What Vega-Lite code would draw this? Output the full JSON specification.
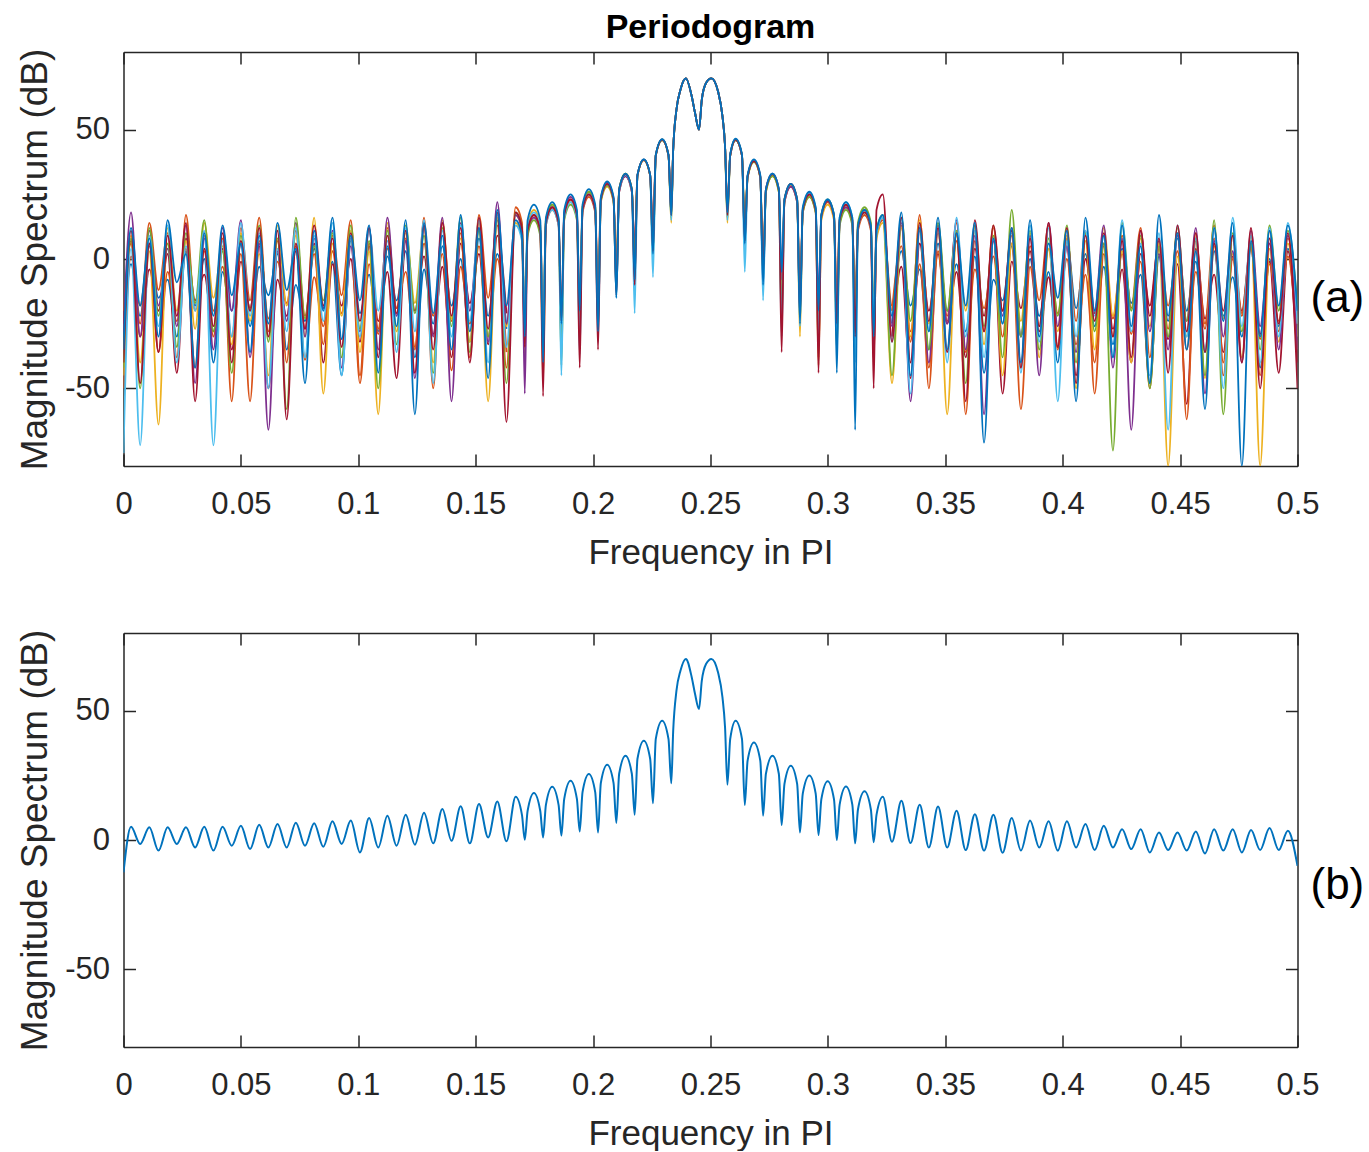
{
"$schema":"https://vega.github.io/schema/vega-lite/v6.json",
"background":"white",
"padding":{"left":16.5,"top":10,"right":0,"bottom":0},
"spacing":59,
"config":{"view":{"stroke":null},"font":"Liberation Sans","axis":{"domainColor":"#262626","domainWidth":1.5,"tickColor":"#262626","tickWidth":1.5,"tickSize":-12,"labelColor":"#262626","labelFont":"Liberation Sans","labelFontSize":31,"labelFlush":false,"labelOverlap":false,"titleFont":"Liberation Sans","titleColor":"#262626","titleFontWeight":"normal","grid":false}},
"datasets":{
"avg":[
{"f":0,"m":-12.5},{"f":0.0032,"m":5.1},{"f":0.0071,"m":-1.5},{"f":0.011,"m":4.9},{"f":0.0149,"m":-4.1},{"f":0.0188,"m":4.9},{"f":0.0227,"m":-1.5},{"f":0.0266,"m":4.9},{"f":0.0305,"m":-2.9},{"f":0.0344,"m":5.1},{"f":0.0383,"m":-4.1},{"f":0.0422,"m":5.1},{"f":0.0461,"m":-2.2},{"f":0.05,"m":5.5},{"f":0.0539,"m":-3.5},{"f":0.0578,"m":5.9},{"f":0.0617,"m":-2.9},{"f":0.0656,"m":6.2},{"f":0.0695,"m":-2.9},{"f":0.0734,"m":6.7},{"f":0.0773,"m":-2.2},{"f":0.0812,"m":6.5},{"f":0.0851,"m":-2.6},{"f":0.089,"m":7.2},{"f":0.0929,"m":-1.5},{"f":0.0968,"m":7.5},{"f":0.1007,"m":-4.8},{"f":0.1046,"m":8.5},{"f":0.1085,"m":-2.9},{"f":0.1124,"m":9.4},{"f":0.1163,"m":-2.2},{"f":0.1202,"m":9.8},{"f":0.1241,"m":-1.8},{"f":0.128,"m":10.5},{"f":0.1319,"m":-1.3},{"f":0.1358,"m":12},{"f":0.1397,"m":-0.3},{"f":0.1436,"m":13},{"f":0.1475,"m":-1.3},{"f":0.1514,"m":13.9},{"f":0.1553,"m":1},{"f":0.1592,"m":14.9},{"f":0.1631,"m":-0.5},{"f":0.167,"m":16.7},{"f":0.1697,"m":9.7},{"f":0.1709,"m":0.1},{"f":0.1721,"m":11.2},{"f":0.1748,"m":18.2},{"f":0.1775,"m":11.2},{"f":0.1787,"m":1},{"f":0.1799,"m":13.6},{"f":0.1826,"m":20.6},{"f":0.1853,"m":13.6},{"f":0.1865,"m":1.7},{"f":0.1877,"m":15.9},{"f":0.1904,"m":22.9},{"f":0.1931,"m":15.9},{"f":0.1943,"m":3.3},{"f":0.1955,"m":18.5},{"f":0.1982,"m":25.5},{"f":0.2009,"m":18.5},{"f":0.2021,"m":2.9},{"f":0.2033,"m":22.1},{"f":0.206,"m":29.1},{"f":0.2087,"m":22.1},{"f":0.2099,"m":6.6},{"f":0.2111,"m":25.6},{"f":0.2138,"m":32.6},{"f":0.2165,"m":25.6},{"f":0.2177,"m":9.8},{"f":0.2189,"m":31.4},{"f":0.2216,"m":38.4},{"f":0.2243,"m":31.4},{"f":0.2255,"m":14.2},{"f":0.2267,"m":39.1},{"f":0.2294,"m":46.1},{"f":0.2321,"m":39.1},{"f":0.2333,"m":21.9},{"f":0.2341,"m":42},{"f":0.2355,"m":57.7},{"f":0.2372,"m":65.4},{"f":0.2395,"m":70},{"f":0.242,"m":62.9},{"f":0.2434,"m":56.5},{"f":0.2451,"m":50.6},{"f":0.2463,"m":61.6},{"f":0.2481,"m":68},{"f":0.2504,"m":70},{"f":0.2532,"m":64.8},{"f":0.2551,"m":55.1},{"f":0.2562,"m":43.5},{"f":0.2572,"m":21.4},{"f":0.2584,"m":39.1},{"f":0.2607,"m":46.1},{"f":0.2634,"m":39.1},{"f":0.2646,"m":13.5},{"f":0.2658,"m":30.7},{"f":0.2685,"m":37.7},{"f":0.2712,"m":30.7},{"f":0.2724,"m":9.4},{"f":0.2736,"m":25.6},{"f":0.2764,"m":32.6},{"f":0.2791,"m":25.6},{"f":0.2803,"m":5.8},{"f":0.2815,"m":21.7},{"f":0.2842,"m":28.7},{"f":0.2869,"m":21.7},{"f":0.2881,"m":2.9},{"f":0.2893,"m":17.9},{"f":0.2921,"m":24.9},{"f":0.2948,"m":17.9},{"f":0.296,"m":1.9},{"f":0.2972,"m":15.7},{"f":0.2999,"m":22.7},{"f":0.3026,"m":15.7},{"f":0.3038,"m":0},{"f":0.305,"m":13.7},{"f":0.3077,"m":20.7},{"f":0.3104,"m":13.7},{"f":0.3116,"m":-1.3},{"f":0.3128,"m":11.8},{"f":0.3156,"m":18.8},{"f":0.3183,"m":11.8},{"f":0.3195,"m":-0.9},{"f":0.3207,"m":9.7},{"f":0.3234,"m":16.7},{"f":0.3273,"m":-0.7},{"f":0.3313,"m":15.2},{"f":0.3352,"m":-1.2},{"f":0.3391,"m":13.6},{"f":0.343,"m":-2.9},{"f":0.3469,"m":12.9},{"f":0.3508,"m":-2.9},{"f":0.3548,"m":11.3},{"f":0.3587,"m":-3.9},{"f":0.3626,"m":10},{"f":0.3665,"m":-4.1},{"f":0.3705,"m":9.8},{"f":0.3744,"m":-4.9},{"f":0.3783,"m":8.5},{"f":0.3822,"m":-4.1},{"f":0.3861,"m":7.5},{"f":0.39,"m":-2.9},{"f":0.394,"m":7.2},{"f":0.3979,"m":-4.1},{"f":0.4018,"m":7.2},{"f":0.4057,"m":-2.9},{"f":0.4097,"m":6.2},{"f":0.4136,"m":-3.9},{"f":0.4175,"m":5.5},{"f":0.4214,"m":-2.9},{"f":0.4253,"m":4.2},{"f":0.4292,"m":-3.5},{"f":0.4332,"m":4.2},{"f":0.4371,"m":-4.8},{"f":0.441,"m":2.9},{"f":0.4449,"m":-3.9},{"f":0.4489,"m":2.9},{"f":0.4528,"m":-4.1},{"f":0.4567,"m":3.3},{"f":0.4606,"m":-5.2},{"f":0.4645,"m":4.2},{"f":0.4684,"m":-4.1},{"f":0.4724,"m":4.2},{"f":0.4763,"m":-4.8},{"f":0.4802,"m":3.9},{"f":0.4841,"m":-3.9},{"f":0.4881,"m":4.6},{"f":0.492,"m":-3.9},{"f":0.4959,"m":3.6},{"f":0.5,"m":-10}
],
"runs":[
{"s":8,"f":0,"m":-30},{"s":8,"f":0.0032,"m":-2},{"s":8,"f":0.0071,"m":-22},{"s":8,"f":0.011,"m":5},{"s":8,"f":0.0149,"m":-15},{"s":8,"f":0.0188,"m":-8},{"s":8,"f":0.0227,"m":-30},{"s":8,"f":0.0266,"m":3},{"s":8,"f":0.0305,"m":-18},{"s":8,"f":0.0344,"m":0},{"s":8,"f":0.0383,"m":-40},{"s":8,"f":0.0422,"m":-5},{"s":8,"f":0.0461,"m":-20},{"s":8,"f":0.05,"m":6},{"s":8,"f":0.0539,"m":-26},{"s":8,"f":0.0578,"m":-3},{"s":8,"f":0.0617,"m":-14},{"s":8,"f":0.0656,"m":2},{"s":8,"f":0.0695,"m":-35},{"s":8,"f":0.0734,"m":-10},{"s":8,"f":0.0773,"m":-24},{"s":8,"f":0.0812,"m":4},{"s":8,"f":0.0851,"m":-19},{"s":8,"f":0.089,"m":-1},{"s":8,"f":0.0929,"m":-45},{"s":8,"f":0.0968,"m":7},{"s":8,"f":0.1007,"m":-21},{"s":8,"f":0.1046,"m":-6},{"s":8,"f":0.1085,"m":-28},{"s":8,"f":0.1124,"m":1},{"s":8,"f":0.1163,"m":-16},{"s":8,"f":0.1202,"m":3},{"s":8,"f":0.1241,"m":-38},{"s":8,"f":0.128,"m":-4},{"s":8,"f":0.1319,"m":-25},{"s":8,"f":0.1358,"m":5},{"s":8,"f":0.1397,"m":-18},{"s":8,"f":0.1436,"m":0},{"s":8,"f":0.1475,"m":-32},{"s":8,"f":0.1514,"m":8},{"s":8,"f":0.1553,"m":-22},{"s":8,"f":0.1592,"m":2},{"s":8,"f":0.1631,"m":-27},
{"s":9,"f":0.3273,"m":-25},{"s":9,"f":0.3313,"m":3},{"s":9,"f":0.3352,"m":-18},{"s":9,"f":0.3391,"m":-4},{"s":9,"f":0.343,"m":-35},{"s":9,"f":0.3469,"m":6},{"s":9,"f":0.3508,"m":-20},{"s":9,"f":0.3548,"m":-2},{"s":9,"f":0.3587,"m":-28},{"s":9,"f":0.3626,"m":1},{"s":9,"f":0.3665,"m":-44},{"s":9,"f":0.3705,"m":-8},{"s":9,"f":0.3744,"m":-16},{"s":9,"f":0.3783,"m":5},{"s":9,"f":0.3822,"m":-30},{"s":9,"f":0.3861,"m":0},{"s":9,"f":0.39,"m":-22},{"s":9,"f":0.394,"m":-5},{"s":9,"f":0.3979,"m":-40},{"s":9,"f":0.4018,"m":7},{"s":9,"f":0.4057,"m":-19},{"s":9,"f":0.4097,"m":2},{"s":9,"f":0.4136,"m":-26},{"s":9,"f":0.4175,"m":-3},{"s":9,"f":0.4214,"m":-33},{"s":9,"f":0.4253,"m":4},{"s":9,"f":0.4292,"m":-17},{"s":9,"f":0.4332,"m":-6},{"s":9,"f":0.4371,"m":-48},{"s":9,"f":0.441,"m":1},{"s":9,"f":0.4449,"m":-24},{"s":9,"f":0.4489,"m":8},{"s":9,"f":0.4528,"m":-20},{"s":9,"f":0.4567,"m":-1},{"s":9,"f":0.4606,"m":-36},{"s":9,"f":0.4645,"m":3},{"s":9,"f":0.4684,"m":-22},{"s":9,"f":0.4724,"m":-7},{"s":9,"f":0.4763,"m":-30},{"s":9,"f":0.4802,"m":5},{"s":9,"f":0.4841,"m":-42},{"s":9,"f":0.4881,"m":0},{"s":9,"f":0.492,"m":-26},{"s":9,"f":0.4959,"m":4},{"s":9,"f":0.5,"m":-30},
{"s":10,"f":0,"m":-25},{"s":10,"f":0.0032,"m":7},{"s":10,"f":0.0071,"m":-30},{"s":10,"f":0.011,"m":-4},{"s":10,"f":0.0149,"m":-20},{"s":10,"f":0.0188,"m":2},{"s":10,"f":0.0227,"m":-44},{"s":10,"f":0.0266,"m":8},{"s":10,"f":0.0305,"m":-16},{"s":10,"f":0.0344,"m":-6},{"s":10,"f":0.0383,"m":-28},{"s":10,"f":0.0422,"m":4},{"s":10,"f":0.0461,"m":-35},{"s":10,"f":0.05,"m":-1},{"s":10,"f":0.0539,"m":-19},{"s":10,"f":0.0578,"m":5},{"s":10,"f":0.0617,"m":-50},{"s":10,"f":0.0656,"m":-8},{"s":10,"f":0.0695,"m":-22},{"s":10,"f":0.0734,"m":3},{"s":10,"f":0.0773,"m":-27},{"s":10,"f":0.0812,"m":6},{"s":10,"f":0.0851,"m":-40},{"s":10,"f":0.089,"m":-2},{"s":10,"f":0.0929,"m":-18},{"s":10,"f":0.0968,"m":0},{"s":10,"f":0.1007,"m":-32},{"s":10,"f":0.1046,"m":5},{"s":10,"f":0.1085,"m":-24},{"s":10,"f":0.1124,"m":-5},{"s":10,"f":0.1163,"m":-46},{"s":10,"f":0.1202,"m":7},{"s":10,"f":0.1241,"m":-20},{"s":10,"f":0.128,"m":1},{"s":10,"f":0.1319,"m":-29},{"s":10,"f":0.1358,"m":-3},{"s":10,"f":0.1397,"m":-38},{"s":10,"f":0.1436,"m":6},{"s":10,"f":0.1475,"m":-17},{"s":10,"f":0.1514,"m":2},{"s":10,"f":0.1553,"m":-33},{"s":10,"f":0.1592,"m":9},{"s":10,"f":0.1631,"m":-21},
{"s":11,"f":0.3273,"m":-30},{"s":11,"f":0.3313,"m":-3},{"s":11,"f":0.3352,"m":-46},{"s":11,"f":0.3391,"m":6},{"s":11,"f":0.343,"m":-20},{"s":11,"f":0.3469,"m":2},{"s":11,"f":0.3508,"m":-25},{"s":11,"f":0.3548,"m":-5},{"s":11,"f":0.3587,"m":-38},{"s":11,"f":0.3626,"m":4},{"s":11,"f":0.3665,"m":-22},{"s":11,"f":0.3705,"m":8},{"s":11,"f":0.3744,"m":-52},{"s":11,"f":0.3783,"m":-1},{"s":11,"f":0.3822,"m":-19},{"s":11,"f":0.3861,"m":3},{"s":11,"f":0.39,"m":-28},{"s":11,"f":0.394,"m":-7},{"s":11,"f":0.3979,"m":-34},{"s":11,"f":0.4018,"m":5},{"s":11,"f":0.4057,"m":-45},{"s":11,"f":0.4097,"m":0},{"s":11,"f":0.4136,"m":-21},{"s":11,"f":0.4175,"m":6},{"s":11,"f":0.4214,"m":-27},{"s":11,"f":0.4253,"m":-4},{"s":11,"f":0.4292,"m":-40},{"s":11,"f":0.4332,"m":2},{"s":11,"f":0.4371,"m":-18},{"s":11,"f":0.441,"m":7},{"s":11,"f":0.4449,"m":-31},{"s":11,"f":0.4489,"m":-2},{"s":11,"f":0.4528,"m":-56},{"s":11,"f":0.4567,"m":4},{"s":11,"f":0.4606,"m":-23},{"s":11,"f":0.4645,"m":-6},{"s":11,"f":0.4684,"m":-36},{"s":11,"f":0.4724,"m":1},{"s":11,"f":0.4763,"m":-20},{"s":11,"f":0.4802,"m":6},{"s":11,"f":0.4841,"m":-29},{"s":11,"f":0.4881,"m":-1},{"s":11,"f":0.492,"m":-44},{"s":11,"f":0.4959,"m":3},{"s":11,"f":0.5,"m":-40},
{"s":12,"f":0,"m":-50},{"s":12,"f":0.0032,"m":1},{"s":12,"f":0.0071,"m":-18},{"s":12,"f":0.011,"m":6},{"s":12,"f":0.0149,"m":-36},{"s":12,"f":0.0188,"m":-5},{"s":12,"f":0.0227,"m":-24},{"s":12,"f":0.0266,"m":4},{"s":12,"f":0.0305,"m":-42},{"s":12,"f":0.0344,"m":9},{"s":12,"f":0.0383,"m":-20},{"s":12,"f":0.0422,"m":-3},{"s":12,"f":0.0461,"m":-30},{"s":12,"f":0.05,"m":2},{"s":12,"f":0.0539,"m":-55},{"s":12,"f":0.0578,"m":7},{"s":12,"f":0.0617,"m":-23},{"s":12,"f":0.0656,"m":-1},{"s":12,"f":0.0695,"m":-17},{"s":12,"f":0.0734,"m":5},{"s":12,"f":0.0773,"m":-39},{"s":12,"f":0.0812,"m":-7},{"s":12,"f":0.0851,"m":-26},{"s":12,"f":0.089,"m":3},{"s":12,"f":0.0929,"m":-21},{"s":12,"f":0.0968,"m":8},{"s":12,"f":0.1007,"m":-48},{"s":12,"f":0.1046,"m":-2},{"s":12,"f":0.1085,"m":-29},{"s":12,"f":0.1124,"m":4},{"s":12,"f":0.1163,"m":-19},{"s":12,"f":0.1202,"m":-5},{"s":12,"f":0.1241,"m":-34},{"s":12,"f":0.128,"m":6},{"s":12,"f":0.1319,"m":-22},{"s":12,"f":0.1358,"m":2},{"s":12,"f":0.1397,"m":-43},{"s":12,"f":0.1436,"m":-3},{"s":12,"f":0.1475,"m":-25},{"s":12,"f":0.1514,"m":5},{"s":12,"f":0.1553,"m":-30},{"s":12,"f":0.1592,"m":0},{"s":12,"f":0.1631,"m":-36},
{"s":13,"f":0.3273,"m":-20},{"s":13,"f":0.3313,"m":5},{"s":13,"f":0.3352,"m":-28},{"s":13,"f":0.3391,"m":-2},{"s":13,"f":0.343,"m":-42},{"s":13,"f":0.3469,"m":3},{"s":13,"f":0.3508,"m":-24},{"s":13,"f":0.3548,"m":7},{"s":13,"f":0.3587,"m":-36},{"s":13,"f":0.3626,"m":-4},{"s":13,"f":0.3665,"m":-19},{"s":13,"f":0.3705,"m":1},{"s":13,"f":0.3744,"m":-30},{"s":13,"f":0.3783,"m":6},{"s":13,"f":0.3822,"m":-58},{"s":13,"f":0.3861,"m":-3},{"s":13,"f":0.39,"m":-26},{"s":13,"f":0.394,"m":4},{"s":13,"f":0.3979,"m":-21},{"s":13,"f":0.4018,"m":0},{"s":13,"f":0.4057,"m":-33},{"s":13,"f":0.4097,"m":-6},{"s":13,"f":0.4136,"m":-40},{"s":13,"f":0.4175,"m":5},{"s":13,"f":0.4214,"m":-23},{"s":13,"f":0.4253,"m":2},{"s":13,"f":0.4292,"m":-29},{"s":13,"f":0.4332,"m":-1},{"s":13,"f":0.4371,"m":-50},{"s":13,"f":0.441,"m":6},{"s":13,"f":0.4449,"m":-18},{"s":13,"f":0.4489,"m":3},{"s":13,"f":0.4528,"m":-35},{"s":13,"f":0.4567,"m":-5},{"s":13,"f":0.4606,"m":-27},{"s":13,"f":0.4645,"m":8},{"s":13,"f":0.4684,"m":-45},{"s":13,"f":0.4724,"m":0},{"s":13,"f":0.4763,"m":-22},{"s":13,"f":0.4802,"m":4},{"s":13,"f":0.4841,"m":-31},{"s":13,"f":0.4881,"m":-2},{"s":13,"f":0.492,"m":-24},{"s":13,"f":0.4959,"m":1},{"s":13,"f":0.5,"m":-35},

{"s":1,"f":0,"m":-20},{"s":1,"f":0.0032,"m":6},{"s":1,"f":0.0071,"m":-25},{"s":1,"f":0.011,"m":14},{"s":1,"f":0.0149,"m":-12},{"s":1,"f":0.0188,"m":10},{"s":1,"f":0.0227,"m":-38},{"s":1,"f":0.0266,"m":17},{"s":1,"f":0.0305,"m":-20},{"s":1,"f":0.0344,"m":3},{"s":1,"f":0.0383,"m":-30},{"s":1,"f":0.0422,"m":8},{"s":1,"f":0.0461,"m":-55},{"s":1,"f":0.05,"m":12},{"s":1,"f":0.0539,"m":-16},{"s":1,"f":0.0578,"m":16},{"s":1,"f":0.0617,"m":-28},{"s":1,"f":0.0656,"m":7},{"s":1,"f":0.0695,"m":-40},{"s":1,"f":0.0734,"m":11},{"s":1,"f":0.0773,"m":-22},{"s":1,"f":0.0812,"m":2},{"s":1,"f":0.0851,"m":-33},{"s":1,"f":0.089,"m":9},{"s":1,"f":0.0929,"m":-14},{"s":1,"f":0.0968,"m":15},{"s":1,"f":0.1007,"m":-45},{"s":1,"f":0.1046,"m":6},{"s":1,"f":0.1085,"m":-27},{"s":1,"f":0.1124,"m":12},{"s":1,"f":0.1163,"m":-19},{"s":1,"f":0.1202,"m":8},{"s":1,"f":0.1241,"m":-35},{"s":1,"f":0.128,"m":16},{"s":1,"f":0.1319,"m":-50},{"s":1,"f":0.1358,"m":14},{"s":1,"f":0.1397,"m":-24},{"s":1,"f":0.1436,"m":10},{"s":1,"f":0.1475,"m":-38},{"s":1,"f":0.1514,"m":17},{"s":1,"f":0.1553,"m":-15},{"s":1,"f":0.1592,"m":13},{"s":1,"f":0.1631,"m":-42},
{"s":1,"f":0.167,"m":20},{"s":1,"f":0.1697,"m":14},{"s":1,"f":0.1709,"m":-29},{"s":1,"f":0.1721,"m":11},{"s":1,"f":0.1748,"m":17},{"s":1,"f":0.1775,"m":11},{"s":1,"f":0.1787,"m":-22},{"s":1,"f":0.1799,"m":13},{"s":1,"f":0.1826,"m":19},{"s":1,"f":0.1853,"m":13},{"s":1,"f":0.1865,"m":-35},{"s":1,"f":0.1877,"m":17},{"s":1,"f":0.1904,"m":23},{"s":1,"f":0.1931,"m":17},{"s":1,"f":0.1943,"m":-18},{"s":1,"f":0.1955,"m":18},{"s":1,"f":0.1982,"m":24},{"s":1,"f":0.2009,"m":18},{"s":1,"f":0.2021,"m":-10},{"s":1,"f":0.2033,"m":23},{"s":1,"f":0.206,"m":29},{"s":1,"f":0.2087,"m":23},{"s":1,"f":0.2099,"m":-5},{"s":1,"f":0.2111,"m":26},{"s":1,"f":0.2138,"m":32},{"s":1,"f":0.2165,"m":26},{"s":1,"f":0.2177,"m":4},{"s":1,"f":0.2189,"m":32.2},{"s":1,"f":0.2216,"m":38.2},{"s":1,"f":0.2243,"m":32.2},{"s":1,"f":0.2255,"m":8},{"s":1,"f":0.2267,"m":40},{"s":1,"f":0.2294,"m":46},{"s":1,"f":0.2321,"m":40},{"s":1,"f":0.2333,"m":20},
{"s":1,"f":0.2341,"m":42},{"s":1,"f":0.2355,"m":57.7},{"s":1,"f":0.2372,"m":65.4},{"s":1,"f":0.2395,"m":69.8},{"s":1,"f":0.242,"m":62.9},{"s":1,"f":0.2434,"m":56.5},{"s":1,"f":0.2451,"m":50},{"s":1,"f":0.2463,"m":61.6},{"s":1,"f":0.2481,"m":68},{"s":1,"f":0.2504,"m":69.8},{"s":1,"f":0.2532,"m":64.8},{"s":1,"f":0.2551,"m":55.1},{"s":1,"f":0.2562,"m":43.5},
{"s":1,"f":0.2572,"m":20},{"s":1,"f":0.2584,"m":40},{"s":1,"f":0.2607,"m":46},{"s":1,"f":0.2634,"m":40},{"s":1,"f":0.2646,"m":10},{"s":1,"f":0.2658,"m":32},{"s":1,"f":0.2685,"m":38},{"s":1,"f":0.2712,"m":32},{"s":1,"f":0.2724,"m":-2},{"s":1,"f":0.2736,"m":26.5},{"s":1,"f":0.2764,"m":32.5},{"s":1,"f":0.2791,"m":26.5},{"s":1,"f":0.2803,"m":-20},{"s":1,"f":0.2815,"m":22},{"s":1,"f":0.2842,"m":28},{"s":1,"f":0.2869,"m":22},{"s":1,"f":0.2881,"m":-12},{"s":1,"f":0.2893,"m":18},{"s":1,"f":0.2921,"m":24},{"s":1,"f":0.2948,"m":18},{"s":1,"f":0.296,"m":-38},{"s":1,"f":0.2972,"m":16},{"s":1,"f":0.2999,"m":22},{"s":1,"f":0.3026,"m":16},{"s":1,"f":0.3038,"m":-15},{"s":1,"f":0.305,"m":15},{"s":1,"f":0.3077,"m":21},{"s":1,"f":0.3104,"m":15},{"s":1,"f":0.3116,"m":-25},{"s":1,"f":0.3128,"m":11},{"s":1,"f":0.3156,"m":17},{"s":1,"f":0.3183,"m":11},{"s":1,"f":0.3195,"m":-40},{"s":1,"f":0.3207,"m":9},{"s":1,"f":0.3234,"m":15},
{"s":1,"f":0.3273,"m":-18},{"s":1,"f":0.3313,"m":13},{"s":1,"f":0.3352,"m":-32},{"s":1,"f":0.3391,"m":17},{"s":1,"f":0.343,"m":-50},{"s":1,"f":0.3469,"m":10},{"s":1,"f":0.3508,"m":-22},{"s":1,"f":0.3548,"m":14},{"s":1,"f":0.3587,"m":-60},{"s":1,"f":0.3626,"m":7},{"s":1,"f":0.3665,"m":-28},{"s":1,"f":0.3705,"m":12},{"s":1,"f":0.3744,"m":-20},{"s":1,"f":0.3783,"m":9},{"s":1,"f":0.3822,"m":-42},{"s":1,"f":0.3861,"m":5},{"s":1,"f":0.39,"m":-16},{"s":1,"f":0.394,"m":13},{"s":1,"f":0.3979,"m":-35},{"s":1,"f":0.4018,"m":8},{"s":1,"f":0.4057,"m":-24},{"s":1,"f":0.4097,"m":11},{"s":1,"f":0.4136,"m":-52},{"s":1,"f":0.4175,"m":2},{"s":1,"f":0.4214,"m":-30},{"s":1,"f":0.4253,"m":9},{"s":1,"f":0.4292,"m":-19},{"s":1,"f":0.4332,"m":12},{"s":1,"f":0.4371,"m":-38},{"s":1,"f":0.441,"m":4},{"s":1,"f":0.4449,"m":-27},{"s":1,"f":0.4489,"m":10},{"s":1,"f":0.4528,"m":-62},{"s":1,"f":0.4567,"m":7},{"s":1,"f":0.4606,"m":-25},{"s":1,"f":0.4645,"m":13},{"s":1,"f":0.4684,"m":-40},{"s":1,"f":0.4724,"m":9},{"s":1,"f":0.4763,"m":-21},{"s":1,"f":0.4802,"m":5},{"s":1,"f":0.4841,"m":-45},{"s":1,"f":0.4881,"m":11},{"s":1,"f":0.492,"m":-28},{"s":1,"f":0.4959,"m":8},{"s":1,"f":0.5,"m":-25},

{"s":2,"f":0,"m":-45},{"s":2,"f":0.0032,"m":9},{"s":2,"f":0.0071,"m":-40},{"s":2,"f":0.011,"m":3},{"s":2,"f":0.0149,"m":-64},{"s":2,"f":0.0188,"m":12},{"s":2,"f":0.0227,"m":-20},{"s":2,"f":0.0266,"m":7},{"s":2,"f":0.0305,"m":-27},{"s":2,"f":0.0344,"m":14},{"s":2,"f":0.0383,"m":-15},{"s":2,"f":0.0422,"m":5},{"s":2,"f":0.0461,"m":-33},{"s":2,"f":0.05,"m":10},{"s":2,"f":0.0539,"m":-24},{"s":2,"f":0.0578,"m":2},{"s":2,"f":0.0617,"m":-45},{"s":2,"f":0.0656,"m":13},{"s":2,"f":0.0695,"m":-18},{"s":2,"f":0.0734,"m":9},{"s":2,"f":0.0773,"m":-30},{"s":2,"f":0.0812,"m":16},{"s":2,"f":0.0851,"m":-52},{"s":2,"f":0.089,"m":6},{"s":2,"f":0.0929,"m":-22},{"s":2,"f":0.0968,"m":11},{"s":2,"f":0.1007,"m":-36},{"s":2,"f":0.1046,"m":3},{"s":2,"f":0.1085,"m":-60},{"s":2,"f":0.1124,"m":14},{"s":2,"f":0.1163,"m":-28},{"s":2,"f":0.1202,"m":10},{"s":2,"f":0.1241,"m":-17},{"s":2,"f":0.128,"m":12},{"s":2,"f":0.1319,"m":-40},{"s":2,"f":0.1358,"m":15},{"s":2,"f":0.1397,"m":-23},{"s":2,"f":0.1436,"m":8},{"s":2,"f":0.1475,"m":-32},{"s":2,"f":0.1514,"m":14},{"s":2,"f":0.1553,"m":-55},{"s":2,"f":0.1592,"m":16},{"s":2,"f":0.1631,"m":-26},
{"s":2,"f":0.167,"m":14},{"s":2,"f":0.1697,"m":8},{"s":2,"f":0.1709,"m":-38},{"s":2,"f":0.1721,"m":13},{"s":2,"f":0.1748,"m":19},{"s":2,"f":0.1775,"m":13},{"s":2,"f":0.1787,"m":-48},{"s":2,"f":0.1799,"m":15},{"s":2,"f":0.1826,"m":21},{"s":2,"f":0.1853,"m":15},{"s":2,"f":0.1865,"m":-30},{"s":2,"f":0.1877,"m":16},{"s":2,"f":0.1904,"m":22},{"s":2,"f":0.1931,"m":16},{"s":2,"f":0.1943,"m":-24},{"s":2,"f":0.1955,"m":20},{"s":2,"f":0.1982,"m":26},{"s":2,"f":0.2009,"m":20},{"s":2,"f":0.2021,"m":-22},{"s":2,"f":0.2033,"m":22},{"s":2,"f":0.206,"m":28},{"s":2,"f":0.2087,"m":22},{"s":2,"f":0.2099,"m":0},{"s":2,"f":0.2111,"m":27},{"s":2,"f":0.2138,"m":33},{"s":2,"f":0.2165,"m":27},{"s":2,"f":0.2177,"m":-2},{"s":2,"f":0.2189,"m":32.3},{"s":2,"f":0.2216,"m":38.3},{"s":2,"f":0.2243,"m":32.3},{"s":2,"f":0.2255,"m":6},{"s":2,"f":0.2267,"m":40.2},{"s":2,"f":0.2294,"m":46.2},{"s":2,"f":0.2321,"m":40.2},{"s":2,"f":0.2333,"m":14},
{"s":2,"f":0.2341,"m":42},{"s":2,"f":0.2355,"m":57.7},{"s":2,"f":0.2372,"m":65.4},{"s":2,"f":0.2395,"m":69.8},{"s":2,"f":0.242,"m":62.9},{"s":2,"f":0.2434,"m":56.5},{"s":2,"f":0.2451,"m":50},{"s":2,"f":0.2463,"m":61.6},{"s":2,"f":0.2481,"m":68},{"s":2,"f":0.2504,"m":69.8},{"s":2,"f":0.2532,"m":64.8},{"s":2,"f":0.2551,"m":55.1},{"s":2,"f":0.2562,"m":43.5},
{"s":2,"f":0.2572,"m":14},{"s":2,"f":0.2584,"m":40.2},{"s":2,"f":0.2607,"m":46.2},{"s":2,"f":0.2634,"m":40.2},{"s":2,"f":0.2646,"m":8},{"s":2,"f":0.2658,"m":31.5},{"s":2,"f":0.2685,"m":37.5},{"s":2,"f":0.2712,"m":31.5},{"s":2,"f":0.2724,"m":-5},{"s":2,"f":0.2736,"m":26},{"s":2,"f":0.2764,"m":32},{"s":2,"f":0.2791,"m":26},{"s":2,"f":0.2803,"m":-16},{"s":2,"f":0.2815,"m":22.5},{"s":2,"f":0.2842,"m":28.5},{"s":2,"f":0.2869,"m":22.5},{"s":2,"f":0.2881,"m":-30},{"s":2,"f":0.2893,"m":19},{"s":2,"f":0.2921,"m":25},{"s":2,"f":0.2948,"m":19},{"s":2,"f":0.296,"m":-41},{"s":2,"f":0.2972,"m":15},{"s":2,"f":0.2999,"m":21},{"s":2,"f":0.3026,"m":15},{"s":2,"f":0.3038,"m":-22},{"s":2,"f":0.305,"m":14},{"s":2,"f":0.3077,"m":20},{"s":2,"f":0.3104,"m":14},{"s":2,"f":0.3116,"m":-35},{"s":2,"f":0.3128,"m":12},{"s":2,"f":0.3156,"m":18},{"s":2,"f":0.3183,"m":12},{"s":2,"f":0.3195,"m":-18},{"s":2,"f":0.3207,"m":8},{"s":2,"f":0.3234,"m":14},
{"s":2,"f":0.3273,"m":-48},{"s":2,"f":0.3313,"m":12},{"s":2,"f":0.3352,"m":-30},{"s":2,"f":0.3391,"m":15},{"s":2,"f":0.343,"m":-25},{"s":2,"f":0.3469,"m":13},{"s":2,"f":0.3508,"m":-60},{"s":2,"f":0.3548,"m":9},{"s":2,"f":0.3587,"m":-20},{"s":2,"f":0.3626,"m":11},{"s":2,"f":0.3665,"m":-33},{"s":2,"f":0.3705,"m":13},{"s":2,"f":0.3744,"m":-45},{"s":2,"f":0.3783,"m":6},{"s":2,"f":0.3822,"m":-24},{"s":2,"f":0.3861,"m":10},{"s":2,"f":0.39,"m":-38},{"s":2,"f":0.394,"m":4},{"s":2,"f":0.3979,"m":-28},{"s":2,"f":0.4018,"m":9},{"s":2,"f":0.4057,"m":-50},{"s":2,"f":0.4097,"m":7},{"s":2,"f":0.4136,"m":-35},{"s":2,"f":0.4175,"m":12},{"s":2,"f":0.4214,"m":-22},{"s":2,"f":0.4253,"m":3},{"s":2,"f":0.4292,"m":-40},{"s":2,"f":0.4332,"m":8},{"s":2,"f":0.4371,"m":-26},{"s":2,"f":0.441,"m":6},{"s":2,"f":0.4449,"m":-80},{"s":2,"f":0.4489,"m":1},{"s":2,"f":0.4528,"m":-30},{"s":2,"f":0.4567,"m":10},{"s":2,"f":0.4606,"m":-46},{"s":2,"f":0.4645,"m":5},{"s":2,"f":0.4684,"m":-23},{"s":2,"f":0.4724,"m":2},{"s":2,"f":0.4763,"m":-38},{"s":2,"f":0.4802,"m":9},{"s":2,"f":0.4841,"m":-80},{"s":2,"f":0.4881,"m":4},{"s":2,"f":0.492,"m":-32},{"s":2,"f":0.4959,"m":6},{"s":2,"f":0.5,"m":-30},

{"s":3,"f":0,"m":-28},{"s":3,"f":0.0032,"m":18},{"s":3,"f":0.0071,"m":-30},{"s":3,"f":0.011,"m":11},{"s":3,"f":0.0149,"m":-18},{"s":3,"f":0.0188,"m":4},{"s":3,"f":0.0227,"m":-26},{"s":3,"f":0.0266,"m":13},{"s":3,"f":0.0305,"m":-48},{"s":3,"f":0.0344,"m":8},{"s":3,"f":0.0383,"m":-35},{"s":3,"f":0.0422,"m":12},{"s":3,"f":0.0461,"m":-20},{"s":3,"f":0.05,"m":15},{"s":3,"f":0.0539,"m":-38},{"s":3,"f":0.0578,"m":6},{"s":3,"f":0.0617,"m":-66},{"s":3,"f":0.0656,"m":3},{"s":3,"f":0.0695,"m":-24},{"s":3,"f":0.0734,"m":14},{"s":3,"f":0.0773,"m":-30},{"s":3,"f":0.0812,"m":8},{"s":3,"f":0.0851,"m":-19},{"s":3,"f":0.089,"m":11},{"s":3,"f":0.0929,"m":-42},{"s":3,"f":0.0968,"m":5},{"s":3,"f":0.1007,"m":-28},{"s":3,"f":0.1046,"m":12},{"s":3,"f":0.1085,"m":-35},{"s":3,"f":0.1124,"m":16},{"s":3,"f":0.1163,"m":-22},{"s":3,"f":0.1202,"m":7},{"s":3,"f":0.1241,"m":-46},{"s":3,"f":0.128,"m":13},{"s":3,"f":0.1319,"m":-30},{"s":3,"f":0.1358,"m":16},{"s":3,"f":0.1397,"m":-55},{"s":3,"f":0.1436,"m":14},{"s":3,"f":0.1475,"m":-20},{"s":3,"f":0.1514,"m":12},{"s":3,"f":0.1553,"m":-32},{"s":3,"f":0.1592,"m":22},{"s":3,"f":0.1631,"m":-25},
{"s":3,"f":0.167,"m":17},{"s":3,"f":0.1697,"m":11},{"s":3,"f":0.1709,"m":-52},{"s":3,"f":0.1721,"m":10},{"s":3,"f":0.1748,"m":16},{"s":3,"f":0.1775,"m":10},{"s":3,"f":0.1787,"m":-34},{"s":3,"f":0.1799,"m":14},{"s":3,"f":0.1826,"m":20},{"s":3,"f":0.1853,"m":14},{"s":3,"f":0.1865,"m":-28},{"s":3,"f":0.1877,"m":18},{"s":3,"f":0.1904,"m":24},{"s":3,"f":0.1931,"m":18},{"s":3,"f":0.1943,"m":-22},{"s":3,"f":0.1955,"m":19},{"s":3,"f":0.1982,"m":25},{"s":3,"f":0.2009,"m":19},{"s":3,"f":0.2021,"m":-18},{"s":3,"f":0.2033,"m":23.5},{"s":3,"f":0.206,"m":29.5},{"s":3,"f":0.2087,"m":23.5},{"s":3,"f":0.2099,"m":-6},{"s":3,"f":0.2111,"m":26},{"s":3,"f":0.2138,"m":32},{"s":3,"f":0.2165,"m":26},{"s":3,"f":0.2177,"m":3},{"s":3,"f":0.2189,"m":32.4},{"s":3,"f":0.2216,"m":38.4},{"s":3,"f":0.2243,"m":32.4},{"s":3,"f":0.2255,"m":10},{"s":3,"f":0.2267,"m":40.1},{"s":3,"f":0.2294,"m":46.1},{"s":3,"f":0.2321,"m":40.1},{"s":3,"f":0.2333,"m":19},
{"s":3,"f":0.2341,"m":42},{"s":3,"f":0.2355,"m":57.7},{"s":3,"f":0.2372,"m":65.4},{"s":3,"f":0.2395,"m":69.8},{"s":3,"f":0.242,"m":62.9},{"s":3,"f":0.2434,"m":56.5},{"s":3,"f":0.2451,"m":50},{"s":3,"f":0.2463,"m":61.6},{"s":3,"f":0.2481,"m":68},{"s":3,"f":0.2504,"m":69.8},{"s":3,"f":0.2532,"m":64.8},{"s":3,"f":0.2551,"m":55.1},{"s":3,"f":0.2562,"m":43.5},
{"s":3,"f":0.2572,"m":19},{"s":3,"f":0.2584,"m":40},{"s":3,"f":0.2607,"m":46},{"s":3,"f":0.2634,"m":40},{"s":3,"f":0.2646,"m":5},{"s":3,"f":0.2658,"m":32},{"s":3,"f":0.2685,"m":38},{"s":3,"f":0.2712,"m":32},{"s":3,"f":0.2724,"m":-12},{"s":3,"f":0.2736,"m":27},{"s":3,"f":0.2764,"m":33},{"s":3,"f":0.2791,"m":27},{"s":3,"f":0.2803,"m":-8},{"s":3,"f":0.2815,"m":22},{"s":3,"f":0.2842,"m":28},{"s":3,"f":0.2869,"m":22},{"s":3,"f":0.2881,"m":-20},{"s":3,"f":0.2893,"m":19},{"s":3,"f":0.2921,"m":25},{"s":3,"f":0.2948,"m":19},{"s":3,"f":0.296,"m":-15},{"s":3,"f":0.2972,"m":16.5},{"s":3,"f":0.2999,"m":22.5},{"s":3,"f":0.3026,"m":16.5},{"s":3,"f":0.3038,"m":-30},{"s":3,"f":0.305,"m":14},{"s":3,"f":0.3077,"m":20},{"s":3,"f":0.3104,"m":14},{"s":3,"f":0.3116,"m":-22},{"s":3,"f":0.3128,"m":13},{"s":3,"f":0.3156,"m":19},{"s":3,"f":0.3183,"m":13},{"s":3,"f":0.3195,"m":-38},{"s":3,"f":0.3207,"m":10},{"s":3,"f":0.3234,"m":16},
{"s":3,"f":0.3273,"m":-26},{"s":3,"f":0.3313,"m":14},{"s":3,"f":0.3352,"m":-55},{"s":3,"f":0.3391,"m":11},{"s":3,"f":0.343,"m":-40},{"s":3,"f":0.3469,"m":13},{"s":3,"f":0.3508,"m":-25},{"s":3,"f":0.3548,"m":15},{"s":3,"f":0.3587,"m":-35},{"s":3,"f":0.3626,"m":9},{"s":3,"f":0.3665,"m":-60},{"s":3,"f":0.3705,"m":7},{"s":3,"f":0.3744,"m":-22},{"s":3,"f":0.3783,"m":12},{"s":3,"f":0.3822,"m":-30},{"s":3,"f":0.3861,"m":9},{"s":3,"f":0.39,"m":-45},{"s":3,"f":0.394,"m":14},{"s":3,"f":0.3979,"m":-26},{"s":3,"f":0.4018,"m":5},{"s":3,"f":0.4057,"m":-36},{"s":3,"f":0.4097,"m":10},{"s":3,"f":0.4136,"m":-20},{"s":3,"f":0.4175,"m":13},{"s":3,"f":0.4214,"m":-42},{"s":3,"f":0.4253,"m":8},{"s":3,"f":0.4292,"m":-66},{"s":3,"f":0.4332,"m":11},{"s":3,"f":0.4371,"m":-28},{"s":3,"f":0.441,"m":2},{"s":3,"f":0.4449,"m":-35},{"s":3,"f":0.4489,"m":9},{"s":3,"f":0.4528,"m":-24},{"s":3,"f":0.4567,"m":12},{"s":3,"f":0.4606,"m":-52},{"s":3,"f":0.4645,"m":7},{"s":3,"f":0.4684,"m":-30},{"s":3,"f":0.4724,"m":3},{"s":3,"f":0.4763,"m":-40},{"s":3,"f":0.4802,"m":11},{"s":3,"f":0.4841,"m":-26},{"s":3,"f":0.4881,"m":6},{"s":3,"f":0.492,"m":-35},{"s":3,"f":0.4959,"m":9},{"s":3,"f":0.5,"m":-35},

{"s":4,"f":0,"m":-42},{"s":4,"f":0.0032,"m":8},{"s":4,"f":0.0071,"m":-50},{"s":4,"f":0.011,"m":12},{"s":4,"f":0.0149,"m":-22},{"s":4,"f":0.0188,"m":6},{"s":4,"f":0.0227,"m":-34},{"s":4,"f":0.0266,"m":10},{"s":4,"f":0.0305,"m":-17},{"s":4,"f":0.0344,"m":15},{"s":4,"f":0.0383,"m":-28},{"s":4,"f":0.0422,"m":3},{"s":4,"f":0.0461,"m":-44},{"s":4,"f":0.05,"m":9},{"s":4,"f":0.0539,"m":-20},{"s":4,"f":0.0578,"m":13},{"s":4,"f":0.0617,"m":-32},{"s":4,"f":0.0656,"m":8},{"s":4,"f":0.0695,"m":-58},{"s":4,"f":0.0734,"m":16},{"s":4,"f":0.0773,"m":-23},{"s":4,"f":0.0812,"m":5},{"s":4,"f":0.0851,"m":-16},{"s":4,"f":0.089,"m":10},{"s":4,"f":0.0929,"m":-38},{"s":4,"f":0.0968,"m":13},{"s":4,"f":0.1007,"m":-27},{"s":4,"f":0.1046,"m":7},{"s":4,"f":0.1085,"m":-50},{"s":4,"f":0.1124,"m":11},{"s":4,"f":0.1163,"m":-33},{"s":4,"f":0.1202,"m":13},{"s":4,"f":0.1241,"m":-21},{"s":4,"f":0.128,"m":9},{"s":4,"f":0.1319,"m":-44},{"s":4,"f":0.1358,"m":12},{"s":4,"f":0.1397,"m":-26},{"s":4,"f":0.1436,"m":16},{"s":4,"f":0.1475,"m":-36},{"s":4,"f":0.1514,"m":11},{"s":4,"f":0.1553,"m":-30},{"s":4,"f":0.1592,"m":15},{"s":4,"f":0.1631,"m":-48},
{"s":4,"f":0.167,"m":18},{"s":4,"f":0.1697,"m":12},{"s":4,"f":0.1709,"m":-24},{"s":4,"f":0.1721,"m":9},{"s":4,"f":0.1748,"m":15},{"s":4,"f":0.1775,"m":9},{"s":4,"f":0.1787,"m":-32},{"s":4,"f":0.1799,"m":15},{"s":4,"f":0.1826,"m":21},{"s":4,"f":0.1853,"m":15},{"s":4,"f":0.1865,"m":-41},{"s":4,"f":0.1877,"m":15},{"s":4,"f":0.1904,"m":21},{"s":4,"f":0.1931,"m":15},{"s":4,"f":0.1943,"m":-30},{"s":4,"f":0.1955,"m":20},{"s":4,"f":0.1982,"m":26},{"s":4,"f":0.2009,"m":20},{"s":4,"f":0.2021,"m":-26},{"s":4,"f":0.2033,"m":22.5},{"s":4,"f":0.206,"m":28.5},{"s":4,"f":0.2087,"m":22.5},{"s":4,"f":0.2099,"m":-12},{"s":4,"f":0.2111,"m":27},{"s":4,"f":0.2138,"m":33},{"s":4,"f":0.2165,"m":27},{"s":4,"f":0.2177,"m":-4},{"s":4,"f":0.2189,"m":32.3},{"s":4,"f":0.2216,"m":38.3},{"s":4,"f":0.2243,"m":32.3},{"s":4,"f":0.2255,"m":0},{"s":4,"f":0.2267,"m":40},{"s":4,"f":0.2294,"m":46},{"s":4,"f":0.2321,"m":40},{"s":4,"f":0.2333,"m":16},
{"s":4,"f":0.2341,"m":42},{"s":4,"f":0.2355,"m":57.7},{"s":4,"f":0.2372,"m":65.4},{"s":4,"f":0.2395,"m":69.8},{"s":4,"f":0.242,"m":62.9},{"s":4,"f":0.2434,"m":56.5},{"s":4,"f":0.2451,"m":50},{"s":4,"f":0.2463,"m":61.6},{"s":4,"f":0.2481,"m":68},{"s":4,"f":0.2504,"m":69.8},{"s":4,"f":0.2532,"m":64.8},{"s":4,"f":0.2551,"m":55.1},{"s":4,"f":0.2562,"m":43.5},
{"s":4,"f":0.2572,"m":16},{"s":4,"f":0.2584,"m":40},{"s":4,"f":0.2607,"m":46},{"s":4,"f":0.2634,"m":40},{"s":4,"f":0.2646,"m":12},{"s":4,"f":0.2658,"m":31.5},{"s":4,"f":0.2685,"m":37.5},{"s":4,"f":0.2712,"m":31.5},{"s":4,"f":0.2724,"m":-8},{"s":4,"f":0.2736,"m":26},{"s":4,"f":0.2764,"m":32},{"s":4,"f":0.2791,"m":26},{"s":4,"f":0.2803,"m":-25},{"s":4,"f":0.2815,"m":23},{"s":4,"f":0.2842,"m":29},{"s":4,"f":0.2869,"m":23},{"s":4,"f":0.2881,"m":-18},{"s":4,"f":0.2893,"m":18},{"s":4,"f":0.2921,"m":24},{"s":4,"f":0.2948,"m":18},{"s":4,"f":0.296,"m":-28},{"s":4,"f":0.2972,"m":17},{"s":4,"f":0.2999,"m":23},{"s":4,"f":0.3026,"m":17},{"s":4,"f":0.3038,"m":-36},{"s":4,"f":0.305,"m":13},{"s":4,"f":0.3077,"m":19},{"s":4,"f":0.3104,"m":13},{"s":4,"f":0.3116,"m":-20},{"s":4,"f":0.3128,"m":14},{"s":4,"f":0.3156,"m":20},{"s":4,"f":0.3183,"m":14},{"s":4,"f":0.3195,"m":-30},{"s":4,"f":0.3207,"m":11},{"s":4,"f":0.3234,"m":17},
{"s":4,"f":0.3273,"m":-45},{"s":4,"f":0.3313,"m":16},{"s":4,"f":0.3352,"m":-24},{"s":4,"f":0.3391,"m":12},{"s":4,"f":0.343,"m":-35},{"s":4,"f":0.3469,"m":14},{"s":4,"f":0.3508,"m":-20},{"s":4,"f":0.3548,"m":11},{"s":4,"f":0.3587,"m":-48},{"s":4,"f":0.3626,"m":13},{"s":4,"f":0.3665,"m":-26},{"s":4,"f":0.3705,"m":9},{"s":4,"f":0.3744,"m":-38},{"s":4,"f":0.3783,"m":19},{"s":4,"f":0.3822,"m":-30},{"s":4,"f":0.3861,"m":11},{"s":4,"f":0.39,"m":-35},{"s":4,"f":0.394,"m":8},{"s":4,"f":0.3979,"m":-22},{"s":4,"f":0.4018,"m":13},{"s":4,"f":0.4057,"m":-40},{"s":4,"f":0.4097,"m":10},{"s":4,"f":0.4136,"m":-28},{"s":4,"f":0.4175,"m":6},{"s":4,"f":0.4214,"m":-74},{"s":4,"f":0.4253,"m":14},{"s":4,"f":0.4292,"m":-20},{"s":4,"f":0.4332,"m":9},{"s":4,"f":0.4371,"m":-50},{"s":4,"f":0.441,"m":5},{"s":4,"f":0.4449,"m":-30},{"s":4,"f":0.4489,"m":12},{"s":4,"f":0.4528,"m":-24},{"s":4,"f":0.4567,"m":8},{"s":4,"f":0.4606,"m":-45},{"s":4,"f":0.4645,"m":15},{"s":4,"f":0.4684,"m":-60},{"s":4,"f":0.4724,"m":10},{"s":4,"f":0.4763,"m":-28},{"s":4,"f":0.4802,"m":6},{"s":4,"f":0.4841,"m":-35},{"s":4,"f":0.4881,"m":13},{"s":4,"f":0.492,"m":-20},{"s":4,"f":0.4959,"m":11},{"s":4,"f":0.5,"m":-18},

{"s":5,"f":0,"m":-75},{"s":5,"f":0.0032,"m":4},{"s":5,"f":0.0071,"m":-72},{"s":5,"f":0.011,"m":9},{"s":5,"f":0.0149,"m":-26},{"s":5,"f":0.0188,"m":13},{"s":5,"f":0.0227,"m":-40},{"s":5,"f":0.0266,"m":5},{"s":5,"f":0.0305,"m":-20},{"s":5,"f":0.0344,"m":11},{"s":5,"f":0.0383,"m":-72},{"s":5,"f":0.0422,"m":7},{"s":5,"f":0.0461,"m":-30},{"s":5,"f":0.05,"m":14},{"s":5,"f":0.0539,"m":-22},{"s":5,"f":0.0578,"m":10},{"s":5,"f":0.0617,"m":-50},{"s":5,"f":0.0656,"m":4},{"s":5,"f":0.0695,"m":-28},{"s":5,"f":0.0734,"m":12},{"s":5,"f":0.0773,"m":-38},{"s":5,"f":0.0812,"m":9},{"s":5,"f":0.0851,"m":-24},{"s":5,"f":0.089,"m":14},{"s":5,"f":0.0929,"m":-45},{"s":5,"f":0.0968,"m":8},{"s":5,"f":0.1007,"m":-30},{"s":5,"f":0.1046,"m":11},{"s":5,"f":0.1085,"m":-20},{"s":5,"f":0.1124,"m":7},{"s":5,"f":0.1163,"m":-36},{"s":5,"f":0.1202,"m":12},{"s":5,"f":0.1241,"m":-28},{"s":5,"f":0.128,"m":15},{"s":5,"f":0.1319,"m":-48},{"s":5,"f":0.1358,"m":11},{"s":5,"f":0.1397,"m":-30},{"s":5,"f":0.1436,"m":13},{"s":5,"f":0.1475,"m":-24},{"s":5,"f":0.1514,"m":15},{"s":5,"f":0.1553,"m":-40},{"s":5,"f":0.1592,"m":17},{"s":5,"f":0.1631,"m":-34},
{"s":5,"f":0.167,"m":13},{"s":5,"f":0.1697,"m":7},{"s":5,"f":0.1709,"m":-20},{"s":5,"f":0.1721,"m":12},{"s":5,"f":0.1748,"m":18},{"s":5,"f":0.1775,"m":12},{"s":5,"f":0.1787,"m":-28},{"s":5,"f":0.1799,"m":13},{"s":5,"f":0.1826,"m":19},{"s":5,"f":0.1853,"m":13},{"s":5,"f":0.1865,"m":-45},{"s":5,"f":0.1877,"m":16},{"s":5,"f":0.1904,"m":22},{"s":5,"f":0.1931,"m":16},{"s":5,"f":0.1943,"m":-37},{"s":5,"f":0.1955,"m":19},{"s":5,"f":0.1982,"m":25},{"s":5,"f":0.2009,"m":19},{"s":5,"f":0.2021,"m":-32},{"s":5,"f":0.2033,"m":23},{"s":5,"f":0.206,"m":29},{"s":5,"f":0.2087,"m":23},{"s":5,"f":0.2099,"m":-15},{"s":5,"f":0.2111,"m":26.5},{"s":5,"f":0.2138,"m":32.5},{"s":5,"f":0.2165,"m":26.5},{"s":5,"f":0.2177,"m":-21},{"s":5,"f":0.2189,"m":32.5},{"s":5,"f":0.2216,"m":38.5},{"s":5,"f":0.2243,"m":32.5},{"s":5,"f":0.2255,"m":-7},{"s":5,"f":0.2267,"m":40.2},{"s":5,"f":0.2294,"m":46.2},{"s":5,"f":0.2321,"m":40.2},{"s":5,"f":0.2333,"m":15},
{"s":5,"f":0.2341,"m":42},{"s":5,"f":0.2355,"m":57.7},{"s":5,"f":0.2372,"m":65.4},{"s":5,"f":0.2395,"m":69.8},{"s":5,"f":0.242,"m":62.9},{"s":5,"f":0.2434,"m":56.5},{"s":5,"f":0.2451,"m":50},{"s":5,"f":0.2463,"m":61.6},{"s":5,"f":0.2481,"m":68},{"s":5,"f":0.2504,"m":69.8},{"s":5,"f":0.2532,"m":64.8},{"s":5,"f":0.2551,"m":55.1},{"s":5,"f":0.2562,"m":43.5},
{"s":5,"f":0.2572,"m":15},{"s":5,"f":0.2584,"m":40.3},{"s":5,"f":0.2607,"m":46.3},{"s":5,"f":0.2634,"m":40.3},{"s":5,"f":0.2646,"m":-5},{"s":5,"f":0.2658,"m":32},{"s":5,"f":0.2685,"m":38},{"s":5,"f":0.2712,"m":32},{"s":5,"f":0.2724,"m":-16},{"s":5,"f":0.2736,"m":27},{"s":5,"f":0.2764,"m":33},{"s":5,"f":0.2791,"m":27},{"s":5,"f":0.2803,"m":-30},{"s":5,"f":0.2815,"m":23},{"s":5,"f":0.2842,"m":29},{"s":5,"f":0.2869,"m":23},{"s":5,"f":0.2881,"m":-26},{"s":5,"f":0.2893,"m":19.5},{"s":5,"f":0.2921,"m":25.5},{"s":5,"f":0.2948,"m":19.5},{"s":5,"f":0.296,"m":-35},{"s":5,"f":0.2972,"m":17},{"s":5,"f":0.2999,"m":23},{"s":5,"f":0.3026,"m":17},{"s":5,"f":0.3038,"m":-28},{"s":5,"f":0.305,"m":16},{"s":5,"f":0.3077,"m":22},{"s":5,"f":0.3104,"m":16},{"s":5,"f":0.3116,"m":-40},{"s":5,"f":0.3128,"m":12},{"s":5,"f":0.3156,"m":18},{"s":5,"f":0.3183,"m":12},{"s":5,"f":0.3195,"m":-24},{"s":5,"f":0.3207,"m":10},{"s":5,"f":0.3234,"m":16},
{"s":5,"f":0.3273,"m":-32},{"s":5,"f":0.3313,"m":15},{"s":5,"f":0.3352,"m":-52},{"s":5,"f":0.3391,"m":13},{"s":5,"f":0.343,"m":-28},{"s":5,"f":0.3469,"m":12},{"s":5,"f":0.3508,"m":-40},{"s":5,"f":0.3548,"m":16},{"s":5,"f":0.3587,"m":-30},{"s":5,"f":0.3626,"m":11},{"s":5,"f":0.3665,"m":-38},{"s":5,"f":0.3705,"m":8},{"s":5,"f":0.3744,"m":-25},{"s":5,"f":0.3783,"m":10},{"s":5,"f":0.3822,"m":-44},{"s":5,"f":0.3861,"m":13},{"s":5,"f":0.39,"m":-32},{"s":5,"f":0.394,"m":12},{"s":5,"f":0.3979,"m":-55},{"s":5,"f":0.4018,"m":7},{"s":5,"f":0.4057,"m":-30},{"s":5,"f":0.4097,"m":11},{"s":5,"f":0.4136,"m":-22},{"s":5,"f":0.4175,"m":9},{"s":5,"f":0.4214,"m":-38},{"s":5,"f":0.4253,"m":15},{"s":5,"f":0.4292,"m":-28},{"s":5,"f":0.4332,"m":6},{"s":5,"f":0.4371,"m":-45},{"s":5,"f":0.441,"m":10},{"s":5,"f":0.4449,"m":-66},{"s":5,"f":0.4489,"m":13},{"s":5,"f":0.4528,"m":-30},{"s":5,"f":0.4567,"m":8},{"s":5,"f":0.4606,"m":-36},{"s":5,"f":0.4645,"m":12},{"s":5,"f":0.4684,"m":-50},{"s":5,"f":0.4724,"m":16},{"s":5,"f":0.4763,"m":-26},{"s":5,"f":0.4802,"m":9},{"s":5,"f":0.4841,"m":-40},{"s":5,"f":0.4881,"m":12},{"s":5,"f":0.492,"m":-30},{"s":5,"f":0.4959,"m":14},{"s":5,"f":0.5,"m":-25},

{"s":6,"f":0,"m":-40},{"s":6,"f":0.0032,"m":11},{"s":6,"f":0.0071,"m":-48},{"s":6,"f":0.011,"m":6},{"s":6,"f":0.0149,"m":-36},{"s":6,"f":0.0188,"m":9},{"s":6,"f":0.0227,"m":-22},{"s":6,"f":0.0266,"m":14},{"s":6,"f":0.0305,"m":-55},{"s":6,"f":0.0344,"m":4},{"s":6,"f":0.0383,"m":-26},{"s":6,"f":0.0422,"m":10},{"s":6,"f":0.0461,"m":-40},{"s":6,"f":0.05,"m":7},{"s":6,"f":0.0539,"m":-20},{"s":6,"f":0.0578,"m":12},{"s":6,"f":0.0617,"m":-30},{"s":6,"f":0.0656,"m":11},{"s":6,"f":0.0695,"m":-62},{"s":6,"f":0.0734,"m":6},{"s":6,"f":0.0773,"m":-27},{"s":6,"f":0.0812,"m":13},{"s":6,"f":0.0851,"m":-18},{"s":6,"f":0.089,"m":8},{"s":6,"f":0.0929,"m":-34},{"s":6,"f":0.0968,"m":10},{"s":6,"f":0.1007,"m":-24},{"s":6,"f":0.1046,"m":12},{"s":6,"f":0.1085,"m":-38},{"s":6,"f":0.1124,"m":9},{"s":6,"f":0.1163,"m":-21},{"s":6,"f":0.1202,"m":11},{"s":6,"f":0.1241,"m":-44},{"s":6,"f":0.128,"m":13},{"s":6,"f":0.1319,"m":-35},{"s":6,"f":0.1358,"m":14},{"s":6,"f":0.1397,"m":-22},{"s":6,"f":0.1436,"m":12},{"s":6,"f":0.1475,"m":-40},{"s":6,"f":0.1514,"m":16},{"s":6,"f":0.1553,"m":-27},{"s":6,"f":0.1592,"m":18},{"s":6,"f":0.1631,"m":-63},
{"s":6,"f":0.167,"m":18},{"s":6,"f":0.1697,"m":12},{"s":6,"f":0.1709,"m":-34},{"s":6,"f":0.1721,"m":11},{"s":6,"f":0.1748,"m":17},{"s":6,"f":0.1775,"m":11},{"s":6,"f":0.1787,"m":-53},{"s":6,"f":0.1799,"m":14},{"s":6,"f":0.1826,"m":20},{"s":6,"f":0.1853,"m":14},{"s":6,"f":0.1865,"m":-24},{"s":6,"f":0.1877,"m":17},{"s":6,"f":0.1904,"m":23},{"s":6,"f":0.1931,"m":17},{"s":6,"f":0.1943,"m":-42},{"s":6,"f":0.1955,"m":19},{"s":6,"f":0.1982,"m":25},{"s":6,"f":0.2009,"m":19},{"s":6,"f":0.2021,"m":-35},{"s":6,"f":0.2033,"m":23},{"s":6,"f":0.206,"m":29},{"s":6,"f":0.2087,"m":23},{"s":6,"f":0.2099,"m":-14},{"s":6,"f":0.2111,"m":26.8},{"s":6,"f":0.2138,"m":32.8},{"s":6,"f":0.2165,"m":26.8},{"s":6,"f":0.2177,"m":-10},{"s":6,"f":0.2189,"m":32.4},{"s":6,"f":0.2216,"m":38.4},{"s":6,"f":0.2243,"m":32.4},{"s":6,"f":0.2255,"m":3},{"s":6,"f":0.2267,"m":40.1},{"s":6,"f":0.2294,"m":46.1},{"s":6,"f":0.2321,"m":40.1},{"s":6,"f":0.2333,"m":17},
{"s":6,"f":0.2341,"m":42},{"s":6,"f":0.2355,"m":57.7},{"s":6,"f":0.2372,"m":65.4},{"s":6,"f":0.2395,"m":69.8},{"s":6,"f":0.242,"m":62.9},{"s":6,"f":0.2434,"m":56.5},{"s":6,"f":0.2451,"m":50},{"s":6,"f":0.2463,"m":61.6},{"s":6,"f":0.2481,"m":68},{"s":6,"f":0.2504,"m":69.8},{"s":6,"f":0.2532,"m":64.8},{"s":6,"f":0.2551,"m":55.1},{"s":6,"f":0.2562,"m":43.5},
{"s":6,"f":0.2572,"m":17},{"s":6,"f":0.2584,"m":40.1},{"s":6,"f":0.2607,"m":46.1},{"s":6,"f":0.2634,"m":40.1},{"s":6,"f":0.2646,"m":7},{"s":6,"f":0.2658,"m":31.8},{"s":6,"f":0.2685,"m":37.8},{"s":6,"f":0.2712,"m":31.8},{"s":6,"f":0.2724,"m":-6},{"s":6,"f":0.2736,"m":26.8},{"s":6,"f":0.2764,"m":32.8},{"s":6,"f":0.2791,"m":26.8},{"s":6,"f":0.2803,"m":-36},{"s":6,"f":0.2815,"m":23},{"s":6,"f":0.2842,"m":29},{"s":6,"f":0.2869,"m":23},{"s":6,"f":0.2881,"m":-22},{"s":6,"f":0.2893,"m":19},{"s":6,"f":0.2921,"m":25},{"s":6,"f":0.2948,"m":19},{"s":6,"f":0.296,"m":-44},{"s":6,"f":0.2972,"m":16.7},{"s":6,"f":0.2999,"m":22.7},{"s":6,"f":0.3026,"m":16.7},{"s":6,"f":0.3038,"m":-25},{"s":6,"f":0.305,"m":15},{"s":6,"f":0.3077,"m":21},{"s":6,"f":0.3104,"m":15},{"s":6,"f":0.3116,"m":-30},{"s":6,"f":0.3128,"m":12},{"s":6,"f":0.3156,"m":18},{"s":6,"f":0.3183,"m":12},{"s":6,"f":0.3195,"m":-50},{"s":6,"f":0.3207,"m":19},{"s":6,"f":0.3234,"m":25},
{"s":6,"f":0.3273,"m":-32},{"s":6,"f":0.3313,"m":16},{"s":6,"f":0.3352,"m":-40},{"s":6,"f":0.3391,"m":14},{"s":6,"f":0.343,"m":-24},{"s":6,"f":0.3469,"m":12},{"s":6,"f":0.3508,"m":-36},{"s":6,"f":0.3548,"m":10},{"s":6,"f":0.3587,"m":-55},{"s":6,"f":0.3626,"m":15},{"s":6,"f":0.3665,"m":-28},{"s":6,"f":0.3705,"m":13},{"s":6,"f":0.3744,"m":-20},{"s":6,"f":0.3783,"m":11},{"s":6,"f":0.3822,"m":-42},{"s":6,"f":0.3861,"m":8},{"s":6,"f":0.39,"m":-26},{"s":6,"f":0.394,"m":14},{"s":6,"f":0.3979,"m":-34},{"s":6,"f":0.4018,"m":12},{"s":6,"f":0.4057,"m":-48},{"s":6,"f":0.4097,"m":9},{"s":6,"f":0.4136,"m":-24},{"s":6,"f":0.4175,"m":10},{"s":6,"f":0.4214,"m":-30},{"s":6,"f":0.4253,"m":7},{"s":6,"f":0.4292,"m":-38},{"s":6,"f":0.4332,"m":11},{"s":6,"f":0.4371,"m":-22},{"s":6,"f":0.441,"m":8},{"s":6,"f":0.4449,"m":-44},{"s":6,"f":0.4489,"m":13},{"s":6,"f":0.4528,"m":-28},{"s":6,"f":0.4567,"m":10},{"s":6,"f":0.4606,"m":-36},{"s":6,"f":0.4645,"m":6},{"s":6,"f":0.4684,"m":-20},{"s":6,"f":0.4724,"m":9},{"s":6,"f":0.4763,"m":-40},{"s":6,"f":0.4802,"m":12},{"s":6,"f":0.4841,"m":-50},{"s":6,"f":0.4881,"m":8},{"s":6,"f":0.492,"m":-25},{"s":6,"f":0.4959,"m":10},{"s":6,"f":0.5,"m":-50},

{"s":7,"f":0,"m":-35},{"s":7,"f":0.0032,"m":12},{"s":7,"f":0.0071,"m":-18},{"s":7,"f":0.011,"m":8},{"s":7,"f":0.0149,"m":-30},{"s":7,"f":0.0188,"m":15},{"s":7,"f":0.0227,"m":-9},{"s":7,"f":0.0266,"m":2},{"s":7,"f":0.0305,"m":-42},{"s":7,"f":0.0344,"m":10},{"s":7,"f":0.0383,"m":-22},{"s":7,"f":0.0422,"m":13},{"s":7,"f":0.0461,"m":-14},{"s":7,"f":0.05,"m":6},{"s":7,"f":0.0539,"m":-36},{"s":7,"f":0.0578,"m":9},{"s":7,"f":0.0617,"m":-25},{"s":7,"f":0.0656,"m":14},{"s":7,"f":0.0695,"m":-12},{"s":7,"f":0.0734,"m":4},{"s":7,"f":0.0773,"m":-48},{"s":7,"f":0.0812,"m":11},{"s":7,"f":0.0851,"m":-20},{"s":7,"f":0.089,"m":16},{"s":7,"f":0.0929,"m":-31},{"s":7,"f":0.0968,"m":9},{"s":7,"f":0.1007,"m":-16},{"s":7,"f":0.1046,"m":13},{"s":7,"f":0.1085,"m":-44},{"s":7,"f":0.1124,"m":5},{"s":7,"f":0.1163,"m":-26},{"s":7,"f":0.1202,"m":15},{"s":7,"f":0.1241,"m":-60},{"s":7,"f":0.128,"m":14},{"s":7,"f":0.1319,"m":-21},{"s":7,"f":0.1358,"m":9},{"s":7,"f":0.1397,"m":-35},{"s":7,"f":0.1436,"m":17},{"s":7,"f":0.1475,"m":-28},{"s":7,"f":0.1514,"m":12},{"s":7,"f":0.1553,"m":-46},{"s":7,"f":0.1592,"m":19},{"s":7,"f":0.1631,"m":-18},
{"s":7,"f":0.167,"m":15},{"s":7,"f":0.1697,"m":9},{"s":7,"f":0.1709,"m":-30},{"s":7,"f":0.1721,"m":15},{"s":7,"f":0.1748,"m":21},{"s":7,"f":0.1775,"m":15},{"s":7,"f":0.1787,"m":-40},{"s":7,"f":0.1799,"m":16},{"s":7,"f":0.1826,"m":22},{"s":7,"f":0.1853,"m":16},{"s":7,"f":0.1865,"m":-25},{"s":7,"f":0.1877,"m":19},{"s":7,"f":0.1904,"m":25},{"s":7,"f":0.1931,"m":19},{"s":7,"f":0.1943,"m":-20},{"s":7,"f":0.1955,"m":21},{"s":7,"f":0.1982,"m":27},{"s":7,"f":0.2009,"m":21},{"s":7,"f":0.2021,"m":-28},{"s":7,"f":0.2033,"m":24},{"s":7,"f":0.206,"m":30},{"s":7,"f":0.2087,"m":24},{"s":7,"f":0.2099,"m":-15},{"s":7,"f":0.2111,"m":27},{"s":7,"f":0.2138,"m":33},{"s":7,"f":0.2165,"m":27},{"s":7,"f":0.2177,"m":-8},{"s":7,"f":0.2189,"m":32.5},{"s":7,"f":0.2216,"m":38.5},{"s":7,"f":0.2243,"m":32.5},{"s":7,"f":0.2255,"m":2},{"s":7,"f":0.2267,"m":40.3},{"s":7,"f":0.2294,"m":46.3},{"s":7,"f":0.2321,"m":40.3},{"s":7,"f":0.2333,"m":17},
{"s":7,"f":0.2341,"m":42},{"s":7,"f":0.2355,"m":57.7},{"s":7,"f":0.2372,"m":65.4},{"s":7,"f":0.2395,"m":69.8},{"s":7,"f":0.242,"m":62.9},{"s":7,"f":0.2434,"m":56.5},{"s":7,"f":0.2451,"m":50},{"s":7,"f":0.2463,"m":61.6},{"s":7,"f":0.2481,"m":68},{"s":7,"f":0.2504,"m":69.8},{"s":7,"f":0.2532,"m":64.8},{"s":7,"f":0.2551,"m":55.1},{"s":7,"f":0.2562,"m":43.5},
{"s":7,"f":0.2572,"m":18},{"s":7,"f":0.2584,"m":40.5},{"s":7,"f":0.2607,"m":46.5},{"s":7,"f":0.2634,"m":40.5},{"s":7,"f":0.2646,"m":6},{"s":7,"f":0.2658,"m":32.5},{"s":7,"f":0.2685,"m":38.5},{"s":7,"f":0.2712,"m":32.5},{"s":7,"f":0.2724,"m":-10},{"s":7,"f":0.2736,"m":27},{"s":7,"f":0.2764,"m":33},{"s":7,"f":0.2791,"m":27},{"s":7,"f":0.2803,"m":-5},{"s":7,"f":0.2815,"m":23},{"s":7,"f":0.2842,"m":29},{"s":7,"f":0.2869,"m":23},{"s":7,"f":0.2881,"m":-25},{"s":7,"f":0.2893,"m":20},{"s":7,"f":0.2921,"m":26},{"s":7,"f":0.2948,"m":20},{"s":7,"f":0.296,"m":-20},{"s":7,"f":0.2972,"m":17},{"s":7,"f":0.2999,"m":23},{"s":7,"f":0.3026,"m":17},{"s":7,"f":0.3038,"m":-44},{"s":7,"f":0.305,"m":16},{"s":7,"f":0.3077,"m":22},{"s":7,"f":0.3104,"m":16},{"s":7,"f":0.3116,"m":-66},{"s":7,"f":0.3128,"m":13},{"s":7,"f":0.3156,"m":19},{"s":7,"f":0.3183,"m":13},{"s":7,"f":0.3195,"m":-30},{"s":7,"f":0.3207,"m":11},{"s":7,"f":0.3234,"m":17},
{"s":7,"f":0.3273,"m":-22},{"s":7,"f":0.3313,"m":18},{"s":7,"f":0.3352,"m":-45},{"s":7,"f":0.3391,"m":12},{"s":7,"f":0.343,"m":-28},{"s":7,"f":0.3469,"m":16},{"s":7,"f":0.3508,"m":-35},{"s":7,"f":0.3548,"m":10},{"s":7,"f":0.3587,"m":-18},{"s":7,"f":0.3626,"m":14},{"s":7,"f":0.3665,"m":-71},{"s":7,"f":0.3705,"m":8},{"s":7,"f":0.3744,"m":-25},{"s":7,"f":0.3783,"m":12},{"s":7,"f":0.3822,"m":-40},{"s":7,"f":0.3861,"m":15},{"s":7,"f":0.39,"m":-30},{"s":7,"f":0.394,"m":6},{"s":7,"f":0.3979,"m":-15},{"s":7,"f":0.4018,"m":11},{"s":7,"f":0.4057,"m":-55},{"s":7,"f":0.4097,"m":16},{"s":7,"f":0.4136,"m":-20},{"s":7,"f":0.4175,"m":9},{"s":7,"f":0.4214,"m":-38},{"s":7,"f":0.4253,"m":13},{"s":7,"f":0.4292,"m":-26},{"s":7,"f":0.4332,"m":5},{"s":7,"f":0.4371,"m":-48},{"s":7,"f":0.441,"m":17},{"s":7,"f":0.4449,"m":-22},{"s":7,"f":0.4489,"m":10},{"s":7,"f":0.4528,"m":-35},{"s":7,"f":0.4567,"m":3},{"s":7,"f":0.4606,"m":-58},{"s":7,"f":0.4645,"m":12},{"s":7,"f":0.4684,"m":-24},{"s":7,"f":0.4724,"m":14},{"s":7,"f":0.4763,"m":-80},{"s":7,"f":0.4802,"m":7},{"s":7,"f":0.4841,"m":-30},{"s":7,"f":0.4881,"m":11},{"s":7,"f":0.492,"m":-18},{"s":7,"f":0.4959,"m":13},{"s":7,"f":0.5,"m":-20}
]
},
"vconcat":[
{
"width":1174,"height":414,
"title":{"text":"Periodogram","fontSize":34,"fontWeight":"bold","color":"#000000","font":"Liberation Sans","offset":3.5},
"layer":[
{"data":{"name":"runs"},
"mark":{"type":"line","interpolate":"monotone","strokeWidth":1.8,"clip":true},
"encoding":{
"x":{"field":"f","type":"quantitative","scale":{"domain":[0,0.5],"nice":false,"zero":false},"axis":{"orient":"bottom","values":[0,0.05,0.1,0.15,0.2,0.25,0.3,0.35,0.4,0.45,0.5],"format":".2~f","labelPadding":35,"title":"Frequency in PI","titleFontSize":35,"titlePadding":16}},
"y":{"field":"m","type":"quantitative","scale":{"domain":[-80,80],"nice":false,"zero":false},"axis":{"orient":"left","values":[-50,0,50],"labelExpr":"'' + datum.value","labelPadding":26,"title":"Magnitude Spectrum (dB)","titleFontSize":37,"titlePadding":10}},
"color":{"field":"s","type":"nominal","scale":{"domain":[1,2,3,4,5,6,7,8,9,10,11,12,13],"range":["#D95319","#EDB120","#7E2F8E","#77AC30","#4DBEEE","#A2142F","#0072BD","#0072BD","#0072BD","#A2142F","#A2142F","#D95319","#D95319"]},"legend":null}
}},
{"data":{"values":[{"f":0.5,"m":-15.6,"t":"(a)"}]},
"mark":{"type":"text","align":"left","baseline":"middle","dx":13,"fontSize":44,"font":"Liberation Sans","color":"#000000"},
"encoding":{
"x":{"field":"f","type":"quantitative","scale":{"domain":[0,0.5],"nice":false,"zero":false},"axis":{"orient":"top","values":[0,0.05,0.1,0.15,0.2,0.25,0.3,0.35,0.4,0.45,0.5],"labels":false,"title":null}},
"y":{"field":"m","type":"quantitative","scale":{"domain":[-80,80],"nice":false,"zero":false},"axis":{"orient":"right","values":[-50,0,50],"labels":false,"title":null}},
"text":{"field":"t","type":"nominal"}
}}
],
"resolve":{"axis":{"x":"independent","y":"independent"}}
},
{
"width":1174,"height":414,
"layer":[
{"data":{"name":"avg"},
"mark":{"type":"line","interpolate":"monotone","strokeWidth":2,"color":"#0072BD","clip":true},
"encoding":{
"x":{"field":"f","type":"quantitative","scale":{"domain":[0,0.5],"nice":false,"zero":false},"axis":{"orient":"bottom","values":[0,0.05,0.1,0.15,0.2,0.25,0.3,0.35,0.4,0.45,0.5],"format":".2~f","labelPadding":35,"title":"Frequency in PI","titleFontSize":35,"titlePadding":16}},
"y":{"field":"m","type":"quantitative","scale":{"domain":[-80,80],"nice":false,"zero":false},"axis":{"orient":"left","values":[-50,0,50],"labelExpr":"'' + datum.value","labelPadding":26,"title":"Magnitude Spectrum (dB)","titleFontSize":37,"titlePadding":10}}
}},
{"data":{"values":[{"f":0.5,"m":-17.7,"t":"(b)"}]},
"mark":{"type":"text","align":"left","baseline":"middle","dx":13,"fontSize":44,"font":"Liberation Sans","color":"#000000"},
"encoding":{
"x":{"field":"f","type":"quantitative","scale":{"domain":[0,0.5],"nice":false,"zero":false},"axis":{"orient":"top","values":[0,0.05,0.1,0.15,0.2,0.25,0.3,0.35,0.4,0.45,0.5],"labels":false,"title":null}},
"y":{"field":"m","type":"quantitative","scale":{"domain":[-80,80],"nice":false,"zero":false},"axis":{"orient":"right","values":[-50,0,50],"labels":false,"title":null}},
"text":{"field":"t","type":"nominal"}
}}
],
"resolve":{"axis":{"x":"independent","y":"independent"}}
}
]
}
